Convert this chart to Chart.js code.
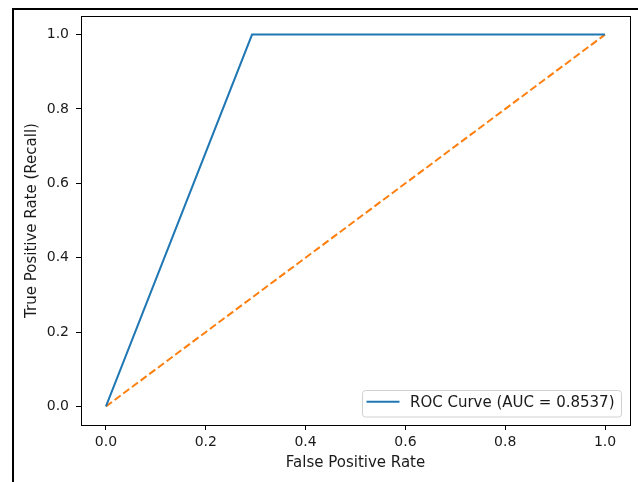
<!DOCTYPE html>
<html>
<head>
<meta charset="utf-8">
<script src="https://cdn.jsdelivr.net/npm/chart.js@4/dist/chart.umd.min.js"></script>
<style>
  html, body { margin: 0; padding: 0; background: #fff; overflow: hidden; }
  #frame { position: absolute; left: 12px; top: 8px; width: 700px; height: 600px;
           border-left: 2px solid #000; border-top: 2px solid #000; }
  #roc { position: absolute; left: 0; top: 0; }
</style>
</head>
<body>
<div id="frame"></div>
<canvas id="roc" width="638" height="482"></canvas>
<script>
// ROC curve points
const fpr = [0, 0.2927, 1];
const tpr = [0, 1, 1];
// chance line
const chanceX = [0, 1];
const chanceY = [0, 1];
const curveLabel = 'ROC Curve (AUC = 0.8537)';
const tickVals = [0, 0.2, 0.4, 0.6, 0.8, 1.0];

const TICK_FONT = { family: 'DejaVu Sans', size: 14 };
const LABEL_FONT = { family: 'DejaVu Sans', size: 15 };

// box around the plot area
const frameBox = {
    id: 'frameBox',
    afterDraw(chart) {
        const { ctx, chartArea: a } = chart;
        ctx.save();
        ctx.strokeStyle = '#000';
        ctx.lineWidth = 1;
        ctx.strokeRect(Math.round(a.left) + 0.5, Math.round(a.top) + 0.5,
                       Math.round(a.right - a.left), Math.round(a.bottom - a.top));
        ctx.restore();
    }
};

// matplotlib style legend in the lower right corner
const cornerLegend = {
    id: 'cornerLegend',
    afterDraw(chart) {
        const { ctx, chartArea: a } = chart;
        const ds = chart.data.datasets[0];
        ctx.save();
        ctx.font = LABEL_FONT.size + 'px ' + LABEL_FONT.family;
        const tw = ctx.measureText(ds.label).width;
        const right = a.right - 8.5, bottom = a.bottom - 8;
        const h = 26.5;
        const w = 4 + 33 + 10.5 + tw + 7;
        const left = right - w, top = bottom - h;
        ctx.beginPath();
        ctx.roundRect(left, top, w, h, 3);
        ctx.fillStyle = 'rgba(255,255,255,0.8)';
        ctx.fill();
        ctx.strokeStyle = 'rgba(204,204,204,0.9)';
        ctx.lineWidth = 1;
        ctx.stroke();
        const cy = top + h / 2;
        ctx.beginPath();
        ctx.moveTo(left + 4, cy - 2);
        ctx.lineTo(left + 37, cy - 2);
        ctx.strokeStyle = ds.borderColor;
        ctx.lineWidth = ds.borderWidth;
        ctx.stroke();
        ctx.fillStyle = '#1a1a1a';
        ctx.textBaseline = 'middle';
        ctx.fillText(ds.label, left + 47.5, cy - 1);
        ctx.restore();
    }
};

new Chart(document.getElementById('roc'), {
    type: 'line',
    data: {
        datasets: [
            {
                label: curveLabel,
                data: fpr.map((x, i) => ({ x: x, y: tpr[i] })),
                borderColor: '#1f77b4',
                borderWidth: 2,
                pointRadius: 0,
                tension: 0,
                fill: false
            },
            {
                label: 'chance',
                data: chanceX.map((x, i) => ({ x: x, y: chanceY[i] })),
                borderColor: '#ff7f0e',
                borderWidth: 2,
                borderDash: [7.5, 3.3],
                pointRadius: 0,
                tension: 0,
                fill: false
            }
        ]
    },
    options: {
        responsive: false,
        animation: false,
        layout: { padding: { left: 0, top: 16, right: 8, bottom: 0 } },
        plugins: { legend: { display: false }, tooltip: { enabled: false } },
        scales: {
            x: {
                type: 'linear',
                min: -0.05,
                max: 1.05,
                afterBuildTicks: s => { s.ticks = tickVals.map(v => ({ value: v })); },
                afterFit: s => { s.height = 57; },
                grid: { drawOnChartArea: false, drawTicks: true, tickLength: 5, tickColor: '#000', tickWidth: 1 },
                border: { display: true, color: '#000', width: 1 },
                ticks: { color: '#1a1a1a', font: TICK_FONT, padding: 4, maxRotation: 0,
                         callback: v => Number(v).toFixed(1) },
                title: { display: true, text: 'False Positive Rate', color: '#1a1a1a', font: LABEL_FONT,
                         padding: { top: 0, bottom: 10 } }
            },
            y: {
                type: 'linear',
                min: -0.05,
                max: 1.05,
                afterBuildTicks: s => { s.ticks = tickVals.map(v => ({ value: v })); },
                afterFit: s => { s.width = 81; },
                grid: { drawOnChartArea: false, drawTicks: true, tickLength: 5, tickColor: '#000', tickWidth: 1 },
                border: { display: true, color: '#000', width: 1 },
                ticks: { color: '#1a1a1a', font: TICK_FONT, padding: 7,
                         callback: v => Number(v).toFixed(1) },
                title: { display: true, text: 'True Positive Rate (Recall)', color: '#1a1a1a', font: LABEL_FONT,
                         padding: { top: 23, bottom: 0 } }
            }
        }
    },
    plugins: [frameBox, cornerLegend]
});
</script>
</body>
</html>
